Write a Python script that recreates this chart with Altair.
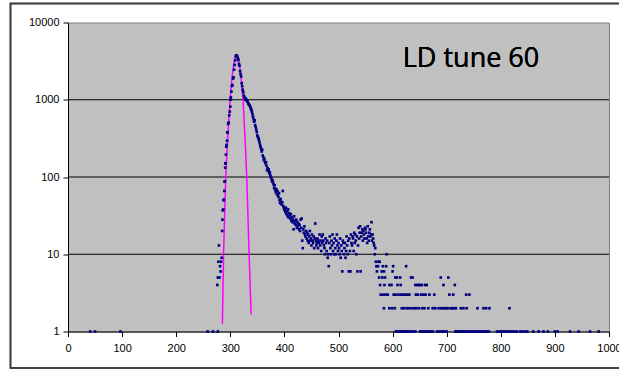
import altair as alt
import pandas as pd

# Channel / count pairs on the rising edge of the peak
rise_x = [276, 277, 278, 279, 280, 281, 282, 283, 284, 285,
          285.5, 286, 287, 287.5, 288, 289, 289.5, 290, 290.5, 291,
          291.5, 292, 292.5, 293, 294, 294.5, 295, 296, 297, 298,
          299, 300, 300.5, 301, 302, 303, 304, 305, 306, 307,
          308, 309, 310, 311]
rise_y = [4, 5, 8, 13, 5, 7, 6, 8, 9, 20,
          28, 37, 38, 50, 51, 66, 87, 88, 132, 150,
          151, 195, 247, 260, 295, 380, 377, 487, 507, 627,
          700, 815, 1000, 1070, 1275, 1510, 1550, 1880, 1950, 2450,
          2820, 3230, 3630, 3760]

# Counts for consecutive channels on the falling side, starting at 312
fall_start = 312
fall_y = [3700, 3620, 3400, 3280, 2900, 2760, 2350, 2150, 2000, 1640,
          1500, 1350, 1250, 1130, 1080, 1050, 1000, 1025, 990, 960,
          947, 900, 880, 860, 840, 800, 770, 740, 700, 650,
          605, 560, 520, 540, 470, 440, 410, 380, 345, 330,
          318, 300, 280, 260, 245, 230, 214, 225, 190, 180,
          166, 172, 158, 150, 155, 140, 123, 130, 120, 125,
          112, 115, 105, 100, 95, 88, 91, 85, 80, 72,
          78, 68, 64, 70, 60, 66, 58, 55, 62, 50,
          46, 52, 48, 44, 47, 66, 42, 40, 38]

# Counts for consecutive channels in the tail, starting at 401
mid_start = 401
mid_y = [37, 35, 40, 33, 36, 31, 38, 30, 34, 32,
         29, 33, 27, 30, 26, 28, 21, 31, 25, 27,
         24, 28, 22, 26, 23, 25, 21, 24, 20, 28,
         22, 29, 15, 12, 21, 19, 23, 18, 17, 20,
         16, 19, 15, 18, 14, 17, 20, 15, 16, 13,
         18, 15, 14, 17, 12, 16, 25, 15, 13, 14,
         16, 12, 15, 14, 18, 13, 15, 11, 17, 14,
         18, 15, 13, 12, 10, 16, 14, 11, 15, 9,
         10, 7, 14, 17, 12, 10, 15, 13, 18, 11,
         14, 10, 16, 12, 10, 15, 18, 13, 11, 14,
         12, 10, 16, 9, 13, 11, 6, 15, 14, 10,
         12, 14, 9, 11, 17, 13, 10, 15, 6, 16,
         11, 6, 18, 14, 13, 17, 16, 11, 19, 14,
         18, 15, 10, 17, 6, 13, 22, 16, 19, 23,
         6, 17, 19, 21, 15, 20, 18, 16, 22, 21,
         19, 16, 14, 23, 17, 15, 19, 21, 17, 18,
         26, 15, 18, 16, 14, 13, 10, 12, 8, 7]

# Sparse far tail: channels holding each small count
x_c10 = [589]
x_c8 = [574, 576]
x_c7 = [573, 582, 588, 601, 625]
x_c6 = [571, 580, 584, 600]
x_c5 = [575, 581, 586, 605, 608, 614, 634, 637, 689, 703]
x_c4 = [577, 585, 594, 598, 609, 615, 642, 645, 648, 651, 654, 660, 663,
        694, 715]
x_c3 = [578, 583, 587, 591, 602, 606, 611, 616, 619, 623, 627, 631, 643,
        647, 653, 657, 661, 668, 677, 705, 712, 736, 742]
x_c2 = [584, 594, 599, 604, 617, 621, 626, 630, 635, 640, 644, 649, 655,
        659, 666, 674, 679, 685, 690, 693, 697, 700, 703, 708, 710, 713,
        717, 726, 731, 737, 757, 768, 773, 779, 816]
x_c1 = [41, 50, 97, 258, 268, 277, 606, 609, 612, 614, 617, 620, 622, 625,
        628, 631, 634, 638, 642, 651, 653, 656, 659, 662, 665, 668, 671,
        674, 682, 686, 690, 693, 696, 700, 716, 718, 721, 724, 727, 730,
        733, 736, 739, 742, 745, 748, 751, 754, 757, 760, 763, 766, 769,
        772, 775, 778, 793, 796, 800, 803, 806, 809, 812, 815, 818, 822,
        826, 830, 836, 840, 845, 849, 860, 870, 879, 887, 900, 905, 928,
        944, 965, 981]

# Fitted peak curve
fit_x = [285.4, 287.5, 291.6, 295, 299.6, 303, 306, 309, 311.5, 314, 317,
         320, 323.6, 327, 330.4, 334.8, 338.5]
fit_y = [1.26, 10, 100, 300, 1000, 1900, 2800, 3500, 3800, 3500, 2800,
         1900, 1000, 350, 100, 10, 1.66]

x_ticks = [0, 100, 200, 300, 400, 500, 600, 700, 800, 900, 1000]
y_ticks = [1, 10, 100, 1000, 10000]
grid_levels = [10, 100, 1000]

rows = list(zip(rise_x, rise_y))
rows += [(fall_start + i, v) for i, v in enumerate(fall_y)]
rows += [(mid_start + i, v) for i, v in enumerate(mid_y)]
for level, xs in [(10, x_c10), (8, x_c8), (7, x_c7), (6, x_c6), (5, x_c5),
                  (4, x_c4), (3, x_c3), (2, x_c2), (1, x_c1)]:
    rows += [(x, level) for x in xs]
points = pd.DataFrame(rows, columns=["channel", "count"])
fit = pd.DataFrame({"channel": fit_x, "count": fit_y})
grid = pd.DataFrame({"count": grid_levels})

x_scale = alt.Scale(domain=[0, 1000], nice=False, zero=False)
y_scale = alt.Scale(type="log", domain=[1, 10000], nice=False)

label_style = dict(labelFont="Liberation Sans", labelFontSize=11,
                   labelColor="black", tickColor="black", domainColor="black",
                   tickSize=5, grid=False, title=None, labelOverlap=False)
x_axis = alt.Axis(values=x_ticks, labelPadding=6, labelFlush=False,
                  format="d", **label_style)
y_axis = alt.Axis(values=y_ticks, labelPadding=4, format="d", **label_style)

X = alt.X("channel:Q", scale=x_scale, axis=x_axis)
Y = alt.Y("count:Q", scale=y_scale, axis=y_axis)

grid_rules = alt.Chart(grid).mark_rule(color="black", strokeWidth=1).encode(
    y=Y)

fit_line = alt.Chart(fit).mark_line(color="#FF00FF", strokeWidth=1.5).encode(
    x=X, y=Y)

dots = alt.Chart(points).mark_square(size=7, color="#000080",
                                     opacity=1).encode(x=X, y=Y)

label = alt.Chart(grid).mark_text(
    text="LD tune 60", font="Open Sans", fontSize=27, color="black",
    align="center", baseline="alphabetic").encode(
    x=alt.value(403), y=alt.value(44))

frame = alt.Chart(grid).mark_rect(
    fillOpacity=0, stroke="#404040", strokeWidth=1.5).encode(
    x=alt.value(-57.5), x2=alt.value(560),
    y=alt.value(-19), y2=alt.value(345.5))

chart = alt.layer(grid_rules, fit_line, dots, label, frame).properties(
    width=541, height=309,
    padding={"left": 68, "top": 22.5, "right": 10, "bottom": 38.5},
    autosize=alt.AutoSizeParams(type="none"),
    background="white",
).configure_view(fill="#C0C0C0", stroke="#808080", strokeWidth=1)

chart.save("out.html", embed_options={"renderer": "svg", "actions": False})
